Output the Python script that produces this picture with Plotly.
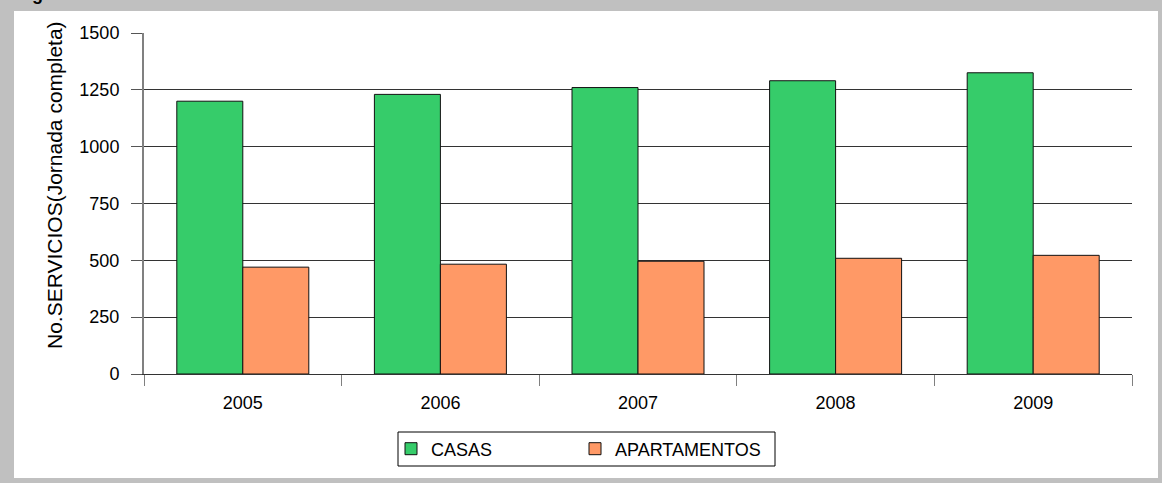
import plotly.graph_objects as go

years = ["2005", "2006", "2007", "2008", "2009"]
casas = [1200, 1230, 1260, 1290, 1325]
apartamentos = [470, 483, 496, 509, 522]
y_ticks = [0, 250, 500, 750, 1000, 1250, 1500]
y_title = "No.SERVICIOS(Jornada completa)"

W, H = 1162, 483
L, R, T, B = 144, 30, 33, 109
pw, ph = W - L - R, H - T - B

def px_x(x):
    return (x - L) / pw

def px_y(y):
    return (H - B - y) / ph

fig = go.Figure()
fig.add_trace(go.Bar(x=years, y=casas, name="CASAS", legend="legend",
                     marker=dict(color="#36CC6A", line=dict(color="#111111", width=1))))
fig.add_trace(go.Bar(x=years, y=apartamentos, name="APARTAMENTOS", legend="legend2",
                     marker=dict(color="#FF9966", line=dict(color="#111111", width=1))))

leg_common = dict(orientation="h", xanchor="left", yanchor="middle",
                  bgcolor="rgba(0,0,0,0)", borderwidth=0,
                  font=dict(size=18), itemclick=False, itemdoubleclick=False)

fig.update_layout(
    width=W, height=H,
    margin=dict(l=L, r=R, t=T, b=B, pad=0),
    paper_bgcolor="#C0C0C0",
    plot_bgcolor="white",
    barmode="group",
    bargap=0.332,
    bargroupgap=0,
    font=dict(family="Arial, Liberation Sans, sans-serif", size=18, color="black"),
    showlegend=True,
    legend=dict(x=px_x(391), y=px_y(449), **leg_common),
    legend2=dict(x=px_x(575), y=px_y(449), **leg_common),
    shapes=[
        dict(type="rect", xref="paper", yref="paper", layer="below",
             x0=px_x(14), x1=px_x(1158), y0=px_y(478), y1=px_y(11),
             fillcolor="white", line=dict(width=0)),
        dict(type="rect", xref="paper", yref="paper", layer="above",
             x0=px_x(398), x1=px_x(775), y0=px_y(466), y1=px_y(432),
             fillcolor="white", line=dict(color="black", width=1)),
    ],
    annotations=[
        dict(text="<b>g</b>", xref="paper", yref="paper",
             x=px_x(37), y=px_y(6), xanchor="center", yanchor="bottom",
             showarrow=False, font=dict(size=18, color="black")),
        dict(text=y_title, xref="paper", yref="paper", textangle=-90,
             x=px_x(54), y=px_y(185), xanchor="center", yanchor="middle",
             showarrow=False, font=dict(size=21, color="black")),
    ],
)

fig.update_yaxes(
    range=[0, 1500], tickvals=y_ticks, ticktext=[str(v) for v in y_ticks],
    showgrid=True, gridcolor="#333333", gridwidth=1,
    showline=True, linecolor="#808080", linewidth=2,
    ticks="outside", ticklen=11, tickcolor="#555555", tickwidth=1,
    ticklabelstandoff=8,
    zeroline=False,
)
fig.update_xaxes(
    showline=True, linecolor="#333333", linewidth=1,
    ticks="outside", tickson="boundaries", ticklen=11, tickcolor="#808080", tickwidth=1,
    ticklabelstandoff=12,
    showgrid=False,
)

fig.write_html("out.html", config={"displayModeBar": False},
               post_script="document.body.style.margin='0';document.body.style.padding='0';")
